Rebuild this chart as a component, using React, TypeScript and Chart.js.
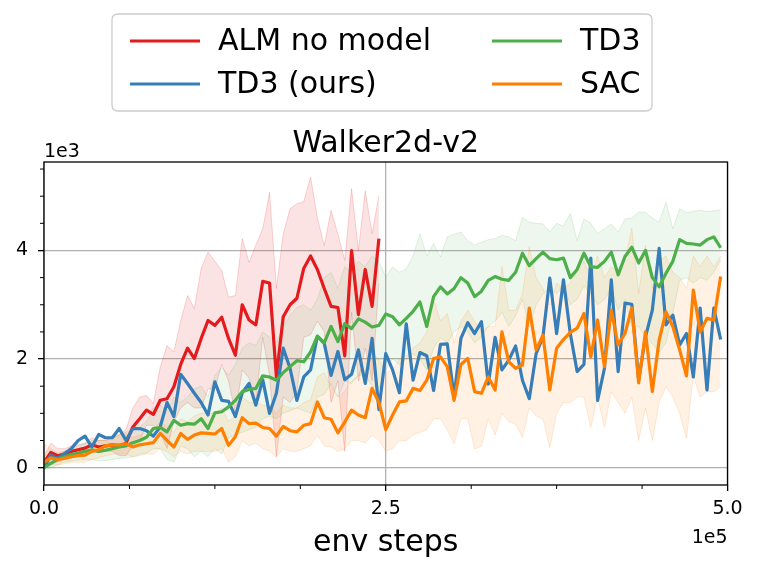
import React, { useEffect, useRef } from "react";
import { Chart, registerables } from "chart.js";

Chart.register(...registerables);

// ---- data (returns in units of 1e3, x in env steps) ----
const STEP = 5000;
const X_TICKS = [0, 250000, 500000];
const X_MINOR = [62500, 125000, 187500, 312500, 375000, 437500];
const Y_TICKS = [0, 2, 4];
const Y_MINOR = [0.5, 1, 1.5, 2.5, 3, 3.5, 4.5, 5, 5.5];
const X_TICK_LABELS = ["0.0", "2.5", "5.0"];
const Y_TICK_LABELS = ["0", "2", "4"];

const almMean = [0.1,0.28,0.22,0.25,0.3,0.33,0.36,0.42,0.38,0.4,
0.42,0.4,0.45,0.75,0.9,1.06,0.98,1.24,1.27,1.49,
1.9,2.2,2.01,2.38,2.71,2.62,2.77,2.38,2.07,3.0,
2.72,2.63,3.43,3.4,1.67,2.78,3.0,3.12,3.67,3.9,
3.65,3.3,2.97,2.95,2.06,4.0,2.82,3.65,2.97,4.22];
const almUpper = [0.2,0.45,0.35,0.35,0.4,0.42,0.45,0.55,0.5,0.5,
0.55,0.6,0.7,1.1,1.3,1.33,1.18,1.85,2.25,2.13,
2.7,3.17,2.93,3.67,3.97,3.8,3.63,3.14,3.17,4.22,
3.78,4.1,4.4,5.07,3.3,4.3,4.77,4.86,4.9,5.35,
4.6,4.09,4.74,4.3,3.82,5.14,4.0,5.1,4.31,5.01];
const almLower = [0.0,0.12,0.1,0.15,0.2,0.24,0.27,0.3,0.27,0.3,
0.3,0.22,0.22,0.4,0.5,0.78,0.78,0.65,0.35,0.85,
1.1,1.2,1.1,1.1,1.45,1.45,1.9,1.6,1.0,1.8,
1.65,1.2,2.4,1.7,0.2,1.3,1.2,1.4,2.4,2.45,
2.7,2.5,1.2,1.6,0.3,2.86,1.6,2.2,1.6,3.4];

const oursMean = [0.0,0.23,0.17,0.26,0.35,0.5,0.58,0.38,0.61,0.55,
0.55,0.72,0.5,0.72,0.72,0.68,0.58,0.75,1.2,0.94,
1.72,1.55,1.37,1.2,0.97,1.58,1.24,1.22,0.94,1.38,
1.55,1.15,1.62,1.0,1.37,2.2,1.83,1.24,1.67,1.8,
2.42,2.29,1.7,2.14,1.62,1.72,2.17,1.55,2.38,1.07,
2.1,1.8,1.38,2.65,1.61,2.12,2.06,1.42,2.27,2.28,
1.3,2.38,2.67,2.47,2.69,1.54,2.4,1.8,1.98,2.24,
1.61,1.27,2.1,2.41,3.49,2.47,3.46,2.47,1.77,1.9,
3.86,1.24,1.83,3.46,1.77,3.03,3.01,1.61,2.41,2.9,
4.04,2.63,2.81,2.26,2.47,1.67,2.94,1.43,2.94,2.36];

const td3Mean = [0.0,0.08,0.15,0.2,0.24,0.27,0.3,0.33,0.3,0.32,
0.35,0.38,0.4,0.46,0.5,0.56,0.72,0.74,0.66,0.87,
0.78,0.81,0.8,0.9,0.72,1.01,1.03,1.12,1.24,1.4,
1.44,1.46,1.69,1.67,1.61,1.75,1.86,1.97,1.95,2.13,
2.42,2.3,2.6,2.32,2.65,2.56,2.74,2.68,2.59,2.62,
2.83,2.78,2.63,2.75,2.88,3.05,2.6,3.15,3.33,3.2,
3.3,3.5,3.4,3.15,3.25,3.45,3.52,3.47,3.45,3.6,
3.95,3.72,3.85,3.97,3.85,3.83,3.86,3.5,3.65,3.95,
3.7,3.69,3.8,3.97,3.55,3.89,4.06,3.77,4.0,3.5,
3.33,3.58,3.8,4.2,4.13,4.12,4.1,4.2,4.25,4.05];
const td3Upper = [0.05,0.15,0.25,0.3,0.35,0.4,0.45,0.5,0.5,0.5,
0.55,0.6,0.65,0.7,0.75,0.85,1.1,1.15,1.05,1.3,
1.2,1.3,1.45,1.5,1.3,1.7,1.85,1.7,1.9,2.2,
2.3,2.25,2.5,2.4,2.3,2.6,2.8,2.95,3.0,2.9,
3.1,3.5,3.6,3.3,3.7,3.6,3.8,3.7,3.9,3.8,
3.51,3.7,3.6,3.66,3.9,4.31,3.9,4.13,3.88,4.25,
4.3,4.34,4.18,4.1,4.15,4.2,4.22,4.28,4.25,4.18,
4.61,4.52,4.5,4.49,4.34,4.5,4.45,4.68,4.18,4.58,
4.5,4.31,4.4,4.49,4.34,4.58,4.6,4.71,4.7,4.6,
4.52,4.89,4.4,4.77,4.7,4.72,4.74,4.72,4.73,4.75];
const td3Lower = [-0.05,0.0,0.05,0.1,0.12,0.14,0.15,0.15,0.12,0.13,
0.15,0.17,0.18,0.2,0.25,0.27,0.35,0.35,0.15,0.1,
0.4,0.35,0.2,0.3,0.2,0.35,0.25,0.55,0.6,0.65,
0.7,0.75,0.9,0.95,0.9,1.0,1.05,1.1,1.05,1.0,
1.3,1.35,1.55,1.3,1.6,1.55,1.7,1.7,1.5,1.45,
1.8,2.0,1.9,2.0,2.1,2.0,1.8,2.2,2.4,2.3,
2.5,2.6,2.5,2.3,2.4,2.6,2.7,2.86,2.6,2.8,
3.1,2.59,3.0,3.2,3.3,3.2,3.35,3.0,3.1,3.35,
3.2,3.0,3.1,3.3,2.9,3.1,2.59,2.6,2.4,2.28,
2.13,2.3,2.85,3.45,3.5,3.4,3.5,3.45,3.6,3.82];

const sacMean = [0.1,0.18,0.15,0.17,0.2,0.22,0.23,0.3,0.33,0.4,
0.42,0.42,0.44,0.38,0.42,0.44,0.46,0.63,0.5,0.38,
0.63,0.52,0.6,0.64,0.63,0.62,0.72,0.41,0.57,0.92,
0.81,0.82,0.74,0.72,0.58,0.76,0.68,0.66,0.78,0.81,
1.21,0.92,0.89,0.64,0.84,1.06,0.97,0.92,1.46,1.2,
0.7,0.97,1.21,1.23,1.46,1.42,1.61,2.01,2.04,1.86,
1.24,1.9,2.01,1.4,1.37,1.67,1.43,2.5,1.95,1.83,
1.89,2.94,2.17,2.44,1.43,2.2,2.36,2.49,2.57,2.84,
2.04,2.72,1.86,2.9,2.26,2.47,2.94,1.56,2.5,1.4,
2.35,2.87,2.6,2.17,1.69,3.27,2.5,2.75,2.72,3.52];
const sacUpper = [0.45,0.35,0.28,0.3,0.32,0.35,0.38,0.45,0.5,0.55,
0.6,0.62,0.62,0.55,0.6,0.65,0.7,0.85,0.75,0.65,
0.9,0.85,0.95,1.0,1.0,1.0,1.1,0.85,0.95,1.3,
1.2,1.2,1.15,1.15,1.0,1.15,1.1,1.1,1.2,1.25,
1.67,1.75,1.5,1.3,1.4,1.6,1.7,2.0,2.1,2.0,
1.75,1.8,2.0,2.05,2.2,2.3,2.5,3.1,2.7,2.84,
2.3,2.7,2.9,2.7,2.5,2.6,2.6,3.7,2.9,2.9,
3.2,4.07,3.5,3.3,3.0,3.4,3.3,3.4,3.6,3.8,
3.5,3.9,3.5,3.7,3.6,3.8,4.41,3.2,4.1,3.3,
3.8,3.9,3.6,3.5,3.3,3.9,3.7,3.9,3.7,3.89];
const sacLower = [0.0,0.05,0.05,0.07,0.1,0.1,0.1,0.15,0.18,0.22,
0.25,0.25,0.25,0.2,0.22,0.25,0.25,0.35,0.3,0.2,
0.3,0.25,0.3,0.3,0.3,0.3,0.35,0.1,0.2,0.5,
0.4,0.45,0.35,0.3,0.2,0.35,0.3,0.3,0.35,0.4,
0.6,0.4,0.38,0.3,0.35,0.5,0.5,0.45,0.6,0.5,
0.3,0.35,0.5,0.5,0.6,0.65,0.7,0.9,0.9,0.7,
0.44,0.9,0.9,0.34,0.4,0.9,0.6,1.0,0.85,0.8,
0.56,1.1,0.95,0.9,0.37,1.0,1.2,1.2,1.3,1.3,
0.75,1.3,0.75,1.4,1.2,1.0,1.3,0.5,1.1,0.5,
1.2,1.5,1.3,1.0,0.54,1.7,1.3,1.4,1.4,1.5];

const SERIES_LABELS = ["ALM no model", "TD3 (ours)", "TD3", "SAC"];
const TITLE = "Walker2d-v2";
const X_LABEL = "env steps";

const RED = [228, 26, 28];
const BLUE = [55, 126, 184];
const GREEN = [77, 175, 74];
const ORANGE = [255, 127, 0];
const rgba = (c: number[], a: number) => `rgba(${c[0]},${c[1]},${c[2]},${a})`;
const FONT = "'DejaVu Sans', 'Liberation Sans', sans-serif";

const pts = (arr: number[]) => arr.map((v, i) => ({ x: i * STEP, y: v }));

function lineDs(label: string, data: number[], c: number[], order: number) {
  return {
    label,
    data: pts(data),
    borderColor: rgba(c, 1),
    backgroundColor: rgba(c, 1),
    borderWidth: 3.2,
    pointRadius: 0,
    tension: 0,
    fill: false,
    borderJoinStyle: "round" as const,
    borderCapStyle: "butt" as const,
    order,
  };
}
function bandDs(label: string, upper: number[], lower: number[], c: number[], alpha: number, order: number) {
  return [
    {
      label: label + " upper",
      data: pts(upper),
      borderColor: rgba(c, alpha + 0.06),
      backgroundColor: rgba(c, alpha),
      borderWidth: 1,
      pointRadius: 0,
      tension: 0,
      fill: "+1",
      order,
    },
    {
      label: label + " lower",
      data: pts(lower),
      borderColor: rgba(c, alpha + 0.06),
      backgroundColor: rgba(c, alpha),
      borderWidth: 1,
      pointRadius: 0,
      tension: 0,
      fill: false,
      order,
    },
  ];
}

const LEGEND = [
  { label: SERIES_LABELS[0], color: RED, col: 0, row: 0 },
  { label: SERIES_LABELS[1], color: BLUE, col: 0, row: 1 },
  { label: SERIES_LABELS[2], color: GREEN, col: 1, row: 0 },
  { label: SERIES_LABELS[3], color: ORANGE, col: 1, row: 1 },
];

const decorPlugin = {
  id: "decor",
  afterDatasetsDraw(chart: any) {
    const { ctx, chartArea: a, scales } = chart;
    ctx.save();
    ctx.strokeStyle = "#000";
    ctx.lineWidth = 1.3;
    ctx.strokeRect(a.left, a.top, a.right - a.left, a.bottom - a.top);
    ctx.lineWidth = 1;
    ctx.beginPath();
    for (const v of Y_MINOR) {
      const y = scales.y.getPixelForValue(v);
      ctx.moveTo(a.left - 4, y);
      ctx.lineTo(a.left, y);
    }
    for (const v of X_MINOR) {
      const x = scales.x.getPixelForValue(v);
      ctx.moveTo(x, a.bottom);
      ctx.lineTo(x, a.bottom + 4);
    }
    ctx.stroke();
    ctx.restore();
  },
  afterDraw(chart: any) {
    const { ctx, chartArea: a } = chart;
    ctx.save();
    ctx.fillStyle = "#000";
    ctx.font = `30px ${FONT}`;
    ctx.textAlign = "center";
    ctx.textBaseline = "alphabetic";
    ctx.fillText(TITLE, (a.left + a.right) / 2, a.top - 10);
    ctx.font = `19px ${FONT}`;
    ctx.textAlign = "left";
    ctx.fillText("1e3", a.left, a.top - 5);
    ctx.textAlign = "right";
    ctx.fillText("1e5", a.right, a.bottom + 58);
    ctx.font = `30px ${FONT}`;
    ctx.textAlign = "center";
    ctx.fillText(X_LABEL, (a.left + a.right) / 2, 551);
    // legend
    const bx = 112, by = 14, bw = 540, bh = 97, r = 6;
    ctx.beginPath();
    ctx.moveTo(bx + r, by);
    ctx.lineTo(bx + bw - r, by);
    ctx.quadraticCurveTo(bx + bw, by, bx + bw, by + r);
    ctx.lineTo(bx + bw, by + bh - r);
    ctx.quadraticCurveTo(bx + bw, by + bh, bx + bw - r, by + bh);
    ctx.lineTo(bx + r, by + bh);
    ctx.quadraticCurveTo(bx, by + bh, bx, by + bh - r);
    ctx.lineTo(bx, by + r);
    ctx.quadraticCurveTo(bx, by, bx + r, by);
    ctx.closePath();
    ctx.fillStyle = "rgba(255,255,255,0.8)";
    ctx.fill();
    ctx.strokeStyle = "#cccccc";
    ctx.lineWidth = 1.3;
    ctx.stroke();
    const colX = [130, 492];
    const rowY = [41, 84];
    ctx.font = `30px ${FONT}`;
    ctx.textAlign = "left";
    ctx.textBaseline = "middle";
    for (const it of LEGEND) {
      const x0 = colX[it.col];
      const y0 = rowY[it.row];
      ctx.strokeStyle = rgba(it.color, 1);
      ctx.lineWidth = 3.2;
      ctx.beginPath();
      ctx.moveTo(x0, y0);
      ctx.lineTo(x0 + 70, y0);
      ctx.stroke();
      ctx.fillStyle = "#000";
      ctx.fillText(it.label, x0 + 88, y0 + 1);
    }
    ctx.restore();
  },
};

export default function App() {
  const ref = useRef<HTMLCanvasElement | null>(null);
  useEffect(() => {
    if (!ref.current) return;
    const datasets: any[] = [
      lineDs(SERIES_LABELS[0], almMean, RED, 4),
      ...bandDs(SERIES_LABELS[0], almUpper, almLower, RED, 0.12, 14),
      lineDs(SERIES_LABELS[1], oursMean, BLUE, 3),
      lineDs(SERIES_LABELS[2], td3Mean, GREEN, 2),
      ...bandDs(SERIES_LABELS[2], td3Upper, td3Lower, GREEN, 0.1, 12),
      lineDs(SERIES_LABELS[3], sacMean, ORANGE, 1),
      ...bandDs(SERIES_LABELS[3], sacUpper, sacLower, ORANGE, 0.1, 11),
    ];
    const chart = new Chart(ref.current, {
      type: "line",
      data: { datasets },
      plugins: [decorPlugin],
      options: {
        animation: false,
        responsive: false,
        maintainAspectRatio: false,
        layout: { padding: { top: 162, right: 33.5, left: 0, bottom: 0 } },
        plugins: {
          legend: { display: false },
          title: { display: false },
          tooltip: { enabled: false },
          filler: { propagate: false },
        },
        scales: {
          x: {
            type: "linear",
            min: 0,
            max: 500000,
            afterBuildTicks: (axis: any) => {
              axis.ticks = X_TICKS.map((v) => ({ value: v }));
            },
            afterFit: (s: any) => {
              s.height = 90;
            },
            ticks: {
              color: "#000",
              font: { family: FONT, size: 19 },
              padding: 7,
              maxRotation: 0,
              autoSkip: false,
              callback: (v: any) => X_TICK_LABELS[X_TICKS.indexOf(Number(v))] ?? "",
            },
            grid: {
              color: "#b0b0b0",
              lineWidth: 1.3,
              drawTicks: true,
              tickLength: 6,
              tickColor: "#000",
              tickWidth: 1.3,
            },
            border: { display: false },
          },
          y: {
            type: "linear",
            min: -0.32,
            max: 5.63,
            afterBuildTicks: (axis: any) => {
              axis.ticks = Y_TICKS.map((v) => ({ value: v }));
            },
            afterFit: (s: any) => {
              s.width = 44;
            },
            ticks: {
              color: "#000",
              font: { family: FONT, size: 19 },
              padding: 10,
              autoSkip: false,
              callback: (v: any) => Y_TICK_LABELS[Y_TICKS.indexOf(Number(v))] ?? "",
            },
            grid: {
              color: "#b0b0b0",
              lineWidth: 1.3,
              drawTicks: true,
              tickLength: 6,
              tickColor: "#000",
              tickWidth: 1.3,
            },
            border: { display: false },
          },
        },
      },
    });
    return () => chart.destroy();
  }, []);
  return (
    <div style={{ position: "absolute", left: 0, top: 0, width: 761, height: 575, background: "#fff" }}>
      <canvas ref={ref} width={761} height={575} style={{ display: "block" }} />
    </div>
  );
}
